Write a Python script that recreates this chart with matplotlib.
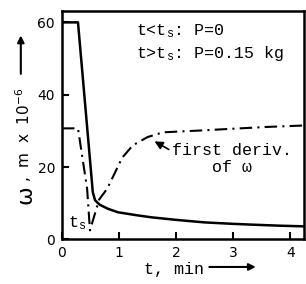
import matplotlib
matplotlib.use("Agg")
import matplotlib.pyplot as plt

plt.rcParams['font.family'] = ['DejaVu Sans']
plt.rcParams['mathtext.fontset'] = 'custom'
plt.rcParams['mathtext.rm'] = 'Liberation Mono'
plt.rcParams['mathtext.it'] = 'Liberation Mono'
plt.rcParams['mathtext.sf'] = 'DejaVu Sans'
plt.rcParams['mathtext.default'] = 'rm'

# solid curve: omega (m x 10^-6) vs t (min)
t_omega = [0, 0.28, 0.54, 0.58, 0.66, 0.8, 0.98, 1.3, 1.57, 2.0, 2.5, 3.0, 3.3, 3.8, 4.25]
omega = [60, 60, 13, 10.8, 9.6, 8.5, 7.5, 6.7, 6.1, 5.4, 4.7, 4.3, 4.1, 3.8, 3.6]

# dash-dot curve: first derivative of omega
t_deriv = [0, 0.28, 0.44, 0.49, 0.65, 0.79, 0.93, 1.05, 1.24, 1.5, 1.77, 2.41, 3.0, 3.6, 4.25]
deriv = [30.7, 30.7, 14, 2.5, 11, 14, 18.5, 22.5, 26, 28.3, 29.6, 30.1, 30.6, 31.1, 31.5]

fig = plt.figure(figsize=(3.06, 2.84), dpi=100)
ax = fig.add_axes([0.2026, 0.157, 0.791, 0.805])

ax.plot(t_omega, omega, 'k-', lw=1.8)
ax.plot(t_deriv, deriv, color='k', lw=1.5, linestyle=(0, (6, 2.5, 1, 2.5)))

ax.set_xlim(0, 4.24)
ax.set_ylim(0, 63.2)
ax.set_xticks([0, 1, 2, 3, 4])
ax.set_yticks([0, 20, 40, 60])
ax.tick_params(direction='in', length=5, width=1.5, labelsize=10, pad=5)
for s in ax.spines.values():
    s.set_linewidth(1.8)

mono = 'Liberation Mono'
ax.text(1.3, 57.5, 't<t$_s$: P=0', family=mono, fontsize=12, va='center')
ax.text(1.3, 51.5, 't>t$_s$: P=0.15 kg', family=mono, fontsize=12, va='center')
ax.text(0.1, 4.5, 't$_s$', family=mono, fontsize=12, va='center')

ax.annotate('first deriv.\nof ω', xy=(1.6, 27.3), xytext=(2.97, 22.2),
            family=mono, fontsize=12, ha='center', va='center',
            multialignment='center',
            arrowprops=dict(arrowstyle='-|>', color='k', lw=1.2,
                            relpos=(0.0, 0.75), shrinkA=0, shrinkB=1))

# y label pieces
fig.text(0.082, 0.315, 'ω', fontsize=16, rotation=90, ha='center', va='center')
fig.text(0.078, 0.36, r',  m  x  $\mathsf{10^{-6}}$', fontsize=11, rotation=90,
         ha='center', va='bottom')
ax.annotate('', xy=(0.068, 0.885), xytext=(0.068, 0.73), xycoords='figure fraction',
            annotation_clip=False,
            arrowprops=dict(arrowstyle='-|>', color='k', lw=1.5))

# x label
fig.text(0.47, 0.05, 't, min', family=mono, fontsize=12, va='center')
ax.annotate('', xy=(0.845, 0.06), xytext=(0.675, 0.06), xycoords='figure fraction',
            annotation_clip=False,
            arrowprops=dict(arrowstyle='-|>', color='k', lw=1.5))

fig.savefig('out.png', dpi=100)
